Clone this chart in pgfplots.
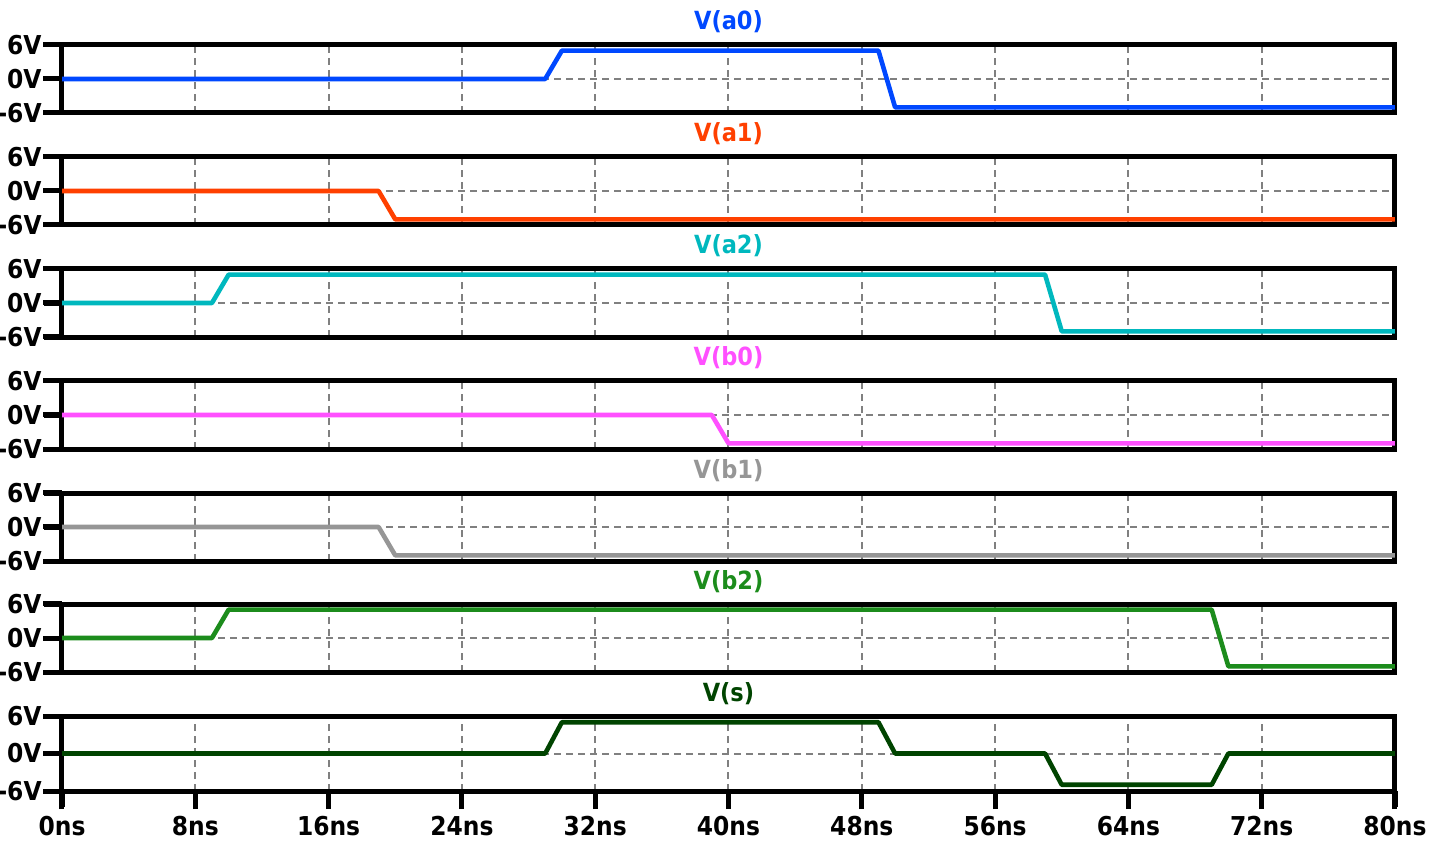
\documentclass[border=0pt]{standalone}
\usepackage{fontspec}
\setmainfont{DejaVu Sans Condensed}
\usepackage{pgfplots}
\pgfplotsset{compat=1.18}

\definecolor{ca0}{RGB}{0,72,255}
\definecolor{ca1}{RGB}{255,64,0}
\definecolor{ca2}{RGB}{0,184,190}
\definecolor{cb0}{RGB}{255,80,255}
\definecolor{cb1}{RGB}{150,150,150}
\definecolor{cb2}{RGB}{28,140,28}
\definecolor{cs}{RGB}{0,68,0}

\pgfplotsset{
  panel/.style={
    scale only axis, width=666.5pt, height=34pt,
    xmin=0, xmax=80, ymin=-6, ymax=6,
    xtick={0,8,...,80}, ytick={-6,0,6}, yticklabels={-6V,0V,6V},
    xmajorgrids, ymajorgrids,
    major grid style={color=black!50, line width=1pt, dash pattern=on 3.5pt off 2.5pt},
    axis line style={line width=2.5pt, black},
    tick align=outside, ytick pos=left, xtick pos=left,
    major tick length=9pt,
    tick style={black, line width=2.5pt},
    tick label style={font=\fontsize{13}{13}\selectfont\bfseries},
    yticklabel style={inner sep=0pt, xshift=-1pt},
    xticklabels={}, xmajorticks=false,
    title style={at={(0.5,1)}, anchor=base, yshift=1.5pt, font=\fontsize{12.5}{12.5}\selectfont\bfseries},
    anchor=north west,
  },
  sig/.style={line width=2.3pt, line join=round, no marks},
}

\begin{document}
\begin{tikzpicture}
\path[use as bounding box] (0,0) rectangle (721pt,421pt);

\begin{axis}[panel, name=p1, at={(31pt,398.5pt)}, title={\color{ca0}V(a0)}]
\addplot[sig, ca0] coordinates {(0,0) (29,0) (30,5) (49,5) (50,-5) (80,-5)};
\end{axis}

\begin{axis}[panel, name=p2, at={(31pt,342.5pt)}, title={\color{ca1}V(a1)}]
\addplot[sig, ca1] coordinates {(0,0) (19,0) (20,-5) (80,-5)};
\end{axis}

\begin{axis}[panel, name=p3, at={(31pt,286.5pt)}, title={\color{ca2}V(a2)}]
\addplot[sig, ca2] coordinates {(0,0) (9,0) (10,5) (59,5) (60,-5) (80,-5)};
\end{axis}

\begin{axis}[panel, name=p4, at={(31pt,230.5pt)}, title={\color{cb0}V(b0)}]
\addplot[sig, cb0] coordinates {(0,0) (39,0) (40,-5) (80,-5)};
\end{axis}

\begin{axis}[panel, name=p5, at={(31pt,174.5pt)}, title={\color{cb1}V(b1)}]
\addplot[sig, cb1] coordinates {(0,0) (19,0) (20,-5) (80,-5)};
\end{axis}

\begin{axis}[panel, name=p6, at={(31pt,119pt)}, title={\color{cb2}V(b2)}]
\addplot[sig, cb2] coordinates {(0,0) (9,0) (10,5) (69,5) (70,-5) (80,-5)};
\end{axis}

\begin{axis}[panel, name=p7, at={(31pt,63pt)}, height=37.5pt, title={\color{cs}V(s)},
  xmajorticks=true,
  xticklabels={0ns,8ns,16ns,24ns,32ns,40ns,48ns,56ns,64ns,72ns,80ns}]
\addplot[sig, cs] coordinates {(0,0) (29,0) (30,5) (49,5) (50,0) (59,0) (60,-5) (69,-5) (70,0) (80,0)};
\end{axis}

\foreach \p in {p1,p2,p3,p4,p5,p6,p7} {
  \draw[draw=black, solid, line width=2.5pt]
    (\p.north west) -- ++(-9.5pt,0pt)
    (\p.west) -- ++(-9.5pt,0pt)
    (\p.south west) -- ++(-9.5pt,0pt);
}
\foreach \i in {0,...,10} {
  \draw[draw=black, solid, line width=2.5pt] ([xshift=\i*66.65pt]p7.south west) -- ++(0pt,-8pt);
}
\end{tikzpicture}
\end{document}
